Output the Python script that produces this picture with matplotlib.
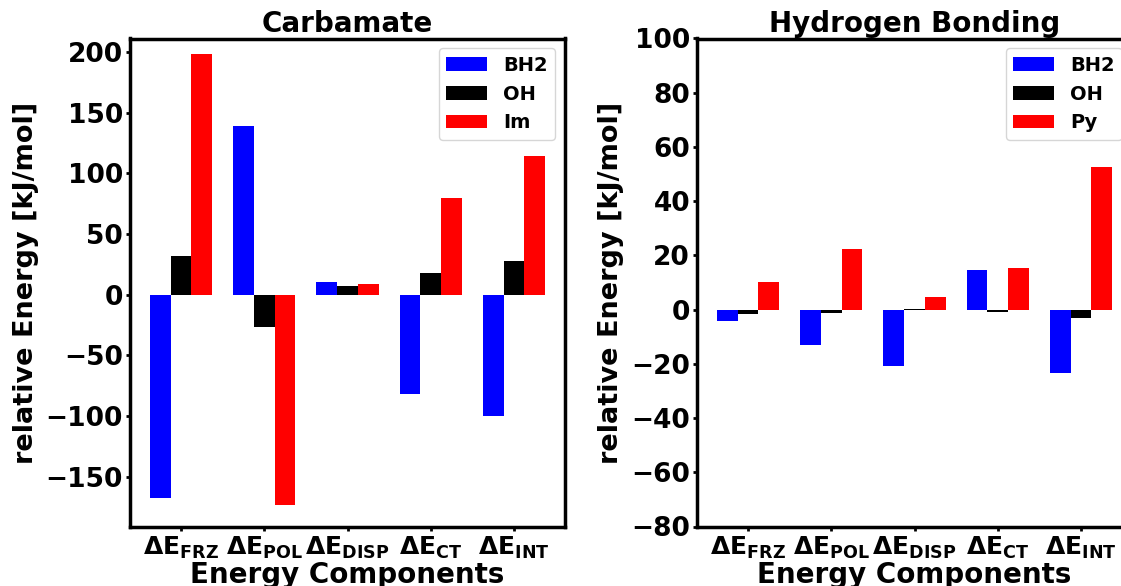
import numpy as np
import matplotlib
matplotlib.use('Agg')
import matplotlib.pyplot as plt

plt.rcParams['font.family'] = 'DejaVu Sans'
plt.rcParams['font.weight'] = 'bold'
plt.rcParams['mathtext.fontset'] = 'dejavusans'

# energy components (x tick labels)
components = [r'$\mathbf{\Delta E_{FRZ}}$', r'$\mathbf{\Delta E_{POL}}$',
              r'$\mathbf{\Delta E_{DISP}}$', r'$\mathbf{\Delta E_{CT}}$',
              r'$\mathbf{\Delta E_{INT}}$']

# Carbamate panel [kJ/mol]
carb_labels = ['BH2', 'OH', 'Im']
carb_bh2 = [-167.5, 139, 10.7, -82, -100]
carb_oh = [32, -26.5, 6.8, 17.5, 28]
carb_im = [198.5, -173, 9, 79.5, 114]

# Hydrogen bonding panel [kJ/mol]
hb_labels = ['BH2', 'OH', 'Py']
hb_bh2 = [-4.3, -13.1, -20.8, 14.6, -23.4]
hb_oh = [-1.8, -1.2, 0.3, -0.9, -3.0]
hb_py = [10.2, 22.5, 4.5, 15.3, 52.6]

colors = ['#0000ff', '#000000', '#ff0000']
width = 0.25
x = np.arange(len(components))

fig = plt.figure(figsize=(11.21, 5.86), dpi=100)
ax1 = fig.add_axes([130/1121, 1 - 526.5/586, 435/1121, 488/586])
ax2 = fig.add_axes([697/1121, 1 - 526.5/586, 435/1121, 488/586])


def draw(ax, series, labels, title, ylim, yticks):
    for i, (vals, lab) in enumerate(zip(series, labels)):
        ax.bar(x + (i - 1) * width, vals, width, color=colors[i], label=lab)
    ax.set_xticks(x)
    ax.set_xticklabels(components, fontsize=18)
    ax.set_ylim(ylim)
    ax.set_yticks(yticks)
    ax.tick_params(axis='y', labelsize=19, width=2, length=3, pad=2)
    ax.tick_params(axis='x', width=2, length=3, pad=3)
    for s in ax.spines.values():
        s.set_linewidth(2.5)
    ax.set_title(title, fontsize=20, fontweight='bold', pad=5)
    ax.set_xlabel('Energy Components', fontsize=20, fontweight='bold', labelpad=0)
    ax.set_ylabel('relative Energy [kJ/mol]', fontsize=19.5, fontweight='bold', labelpad=5)
    ax.legend(loc='upper right', prop={'size': 14, 'weight': 'bold'},
              handletextpad=0.8, handlelength=2.1)


draw(ax1, [carb_bh2, carb_oh, carb_im], carb_labels, 'Carbamate',
     (-191, 211), [-150, -100, -50, 0, 50, 100, 150, 200])
draw(ax2, [hb_bh2, hb_oh, hb_py], hb_labels, 'Hydrogen Bonding',
     (-80, 100), [-80, -60, -40, -20, 0, 20, 40, 60, 80, 100])

fig.savefig('out.png', dpi=100)
